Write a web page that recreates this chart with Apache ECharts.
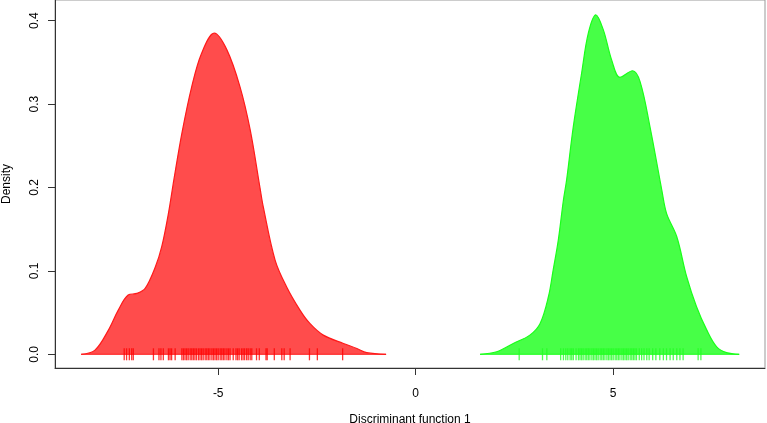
<!DOCTYPE html>
<html>
<head>
<meta charset="utf-8">
<script src="https://cdn.jsdelivr.net/npm/echarts@6/dist/echarts.min.js"></script>
<style>html,body{margin:0;padding:0;background:#fff;}#c{width:767px;height:423px;}</style>
</head>
<body>
<div id="c"></div>
<script>
// Density curve of group 1 (red): x values and density values
const redX = [-8.47,-8.12,-7.78,-7.53,-7.28,-7.06,-6.85,-6.59,-6.43,-6.26,-6.12,-5.92,-5.67,-5.42,-5.10,-4.78,-4.45,-4.19,-3.94,-3.86,-3.56,-3.27,-2.93,-2.68,-2.34,-1.83,-1.49,-1.24,-0.75];
const redY = [0.000,0.005,0.029,0.053,0.071,0.073,0.079,0.105,0.129,0.169,0.210,0.265,0.321,0.361,0.385,0.365,0.321,0.269,0.199,0.177,0.113,0.081,0.053,0.037,0.023,0.013,0.007,0.002,0.000];
// Density curve of group 2 (green)
const greenX = [1.63,2.05,2.47,2.89,3.15,3.36,3.48,3.61,3.74,3.82,3.99,4.20,4.37,4.56,4.75,4.96,5.17,5.49,5.68,5.93,6.23,6.35,6.61,6.86,7.11,7.37,7.62,7.87,8.19];
const greenY = [0.000,0.003,0.013,0.023,0.037,0.069,0.101,0.137,0.185,0.209,0.273,0.337,0.385,0.407,0.389,0.353,0.332,0.340,0.327,0.273,0.197,0.169,0.141,0.093,0.057,0.029,0.009,0.002,0.000];
// Rug observations
const redRug = [-7.38,-7.32,-7.25,-7.19,-7.15,-6.64,-6.50,-6.45,-6.39,-6.26,-6.22,-6.18,-6.09,-5.92,-5.88,-5.84,-5.80,-5.76,-5.71,-5.67,-5.63,-5.59,-5.55,-5.50,-5.46,-5.42,-5.38,-5.33,-5.29,-5.25,-5.21,-5.16,-5.12,-5.08,-5.04,-5.00,-4.95,-4.91,-4.87,-4.83,-4.78,-4.74,-4.70,-4.62,-4.55,-4.51,-4.47,-4.41,-4.37,-4.33,-4.28,-4.24,-4.19,-4.15,-4.03,-3.96,-3.79,-3.76,-3.58,-3.39,-3.33,-3.18,-2.69,-2.49,-1.85];
const greenRug = [2.62,3.21,3.32,3.67,3.74,3.80,3.85,3.91,3.95,3.99,4.06,4.12,4.16,4.20,4.24,4.29,4.33,4.37,4.41,4.46,4.50,4.54,4.58,4.62,4.67,4.71,4.75,4.79,4.84,4.88,4.92,4.96,5.00,5.05,5.09,5.13,5.17,5.22,5.26,5.30,5.34,5.38,5.43,5.47,5.51,5.55,5.59,5.66,5.72,5.78,5.85,5.91,6.00,6.08,6.18,6.27,6.35,6.44,6.52,6.61,6.69,6.77,7.15,7.22];
// Tick labels
const xTicks = [-5, 0, 5];
const yTicks = [0.0, 0.1, 0.2, 0.3, 0.4];

const pairs = (xs, ys) => xs.map((x, i) => [x, ys[i]]);
const rug = xs => xs.map(x => [x, 0]);
const FONT = 'Liberation Sans';

const chart = echarts.init(document.getElementById('c'), null, {renderer: 'canvas'});
chart.setOption({
  animation: false,
  backgroundColor: '#fff',
  grid: {left: 55, right: 2, top: 0, bottom: 55, show: true, borderColor: '#999', borderWidth: 1,
    backgroundColor: 'transparent', containLabel: false, outerBoundsMode: 'none'},
  xAxis: {
    type: 'value', min: -9.132, max: 8.843,
    name: 'Discriminant function 1', nameLocation: 'middle', nameGap: 46,
    nameTextStyle: {fontFamily: FONT, fontSize: 12, color: '#000'},
    axisLine: {show: true, onZero: false, lineStyle: {color: '#333', width: 1}},
    axisTick: {show: true, length: 7, customValues: xTicks, lineStyle: {color: '#333'}},
    axisLabel: {customValues: xTicks, margin: 20, fontFamily: FONT, fontSize: 12, color: '#000'},
    splitLine: {show: false}
  },
  yAxis: {
    type: 'value', min: -0.01643, max: 0.4248,
    name: 'Density', nameLocation: 'middle', nameGap: 42, nameRotate: 90,
    nameTextStyle: {fontFamily: FONT, fontSize: 12, color: '#000'},
    axisLine: {show: true, onZero: false, lineStyle: {color: '#333', width: 1}},
    axisTick: {show: true, length: 7, customValues: yTicks, lineStyle: {color: '#333'}},
    axisLabel: {customValues: yTicks, rotate: 90, margin: 14, fontFamily: FONT, fontSize: 12, color: '#000',
      formatter: v => v.toFixed(1)},
    splitLine: {show: false}
  },
  series: [
    {type: 'line', data: pairs(redX, redY), smooth: 0.35, showSymbol: false,
      lineStyle: {color: '#ff1a1a', width: 1.2}, areaStyle: {color: '#ff0000', opacity: 0.7, origin: 0}, z: 2},
    {type: 'line', data: pairs(greenX, greenY), smooth: 0.35, showSymbol: false,
      lineStyle: {color: '#1aff1a', width: 1.2}, areaStyle: {color: '#00ff00', opacity: 0.72, origin: 0}, z: 2},
    {type: 'line', data: [[redX[0], 0], [redX[redX.length - 1], 0]], showSymbol: false,
      lineStyle: {color: '#ff1a1a', width: 1}, z: 3},
    {type: 'line', data: [[greenX[0], 0], [greenX[greenX.length - 1], 0]], showSymbol: false,
      lineStyle: {color: '#1aff1a', width: 1}, z: 3},
    {type: 'scatter', data: rug(redRug), symbol: 'rect', symbolSize: [1.3, 12],
      itemStyle: {color: '#ff0000'}, z: 4},
    {type: 'scatter', data: rug(greenRug), symbol: 'rect', symbolSize: [1.3, 12],
      itemStyle: {color: '#22ff22'}, z: 4}
  ]
});
</script>
</body>
</html>
